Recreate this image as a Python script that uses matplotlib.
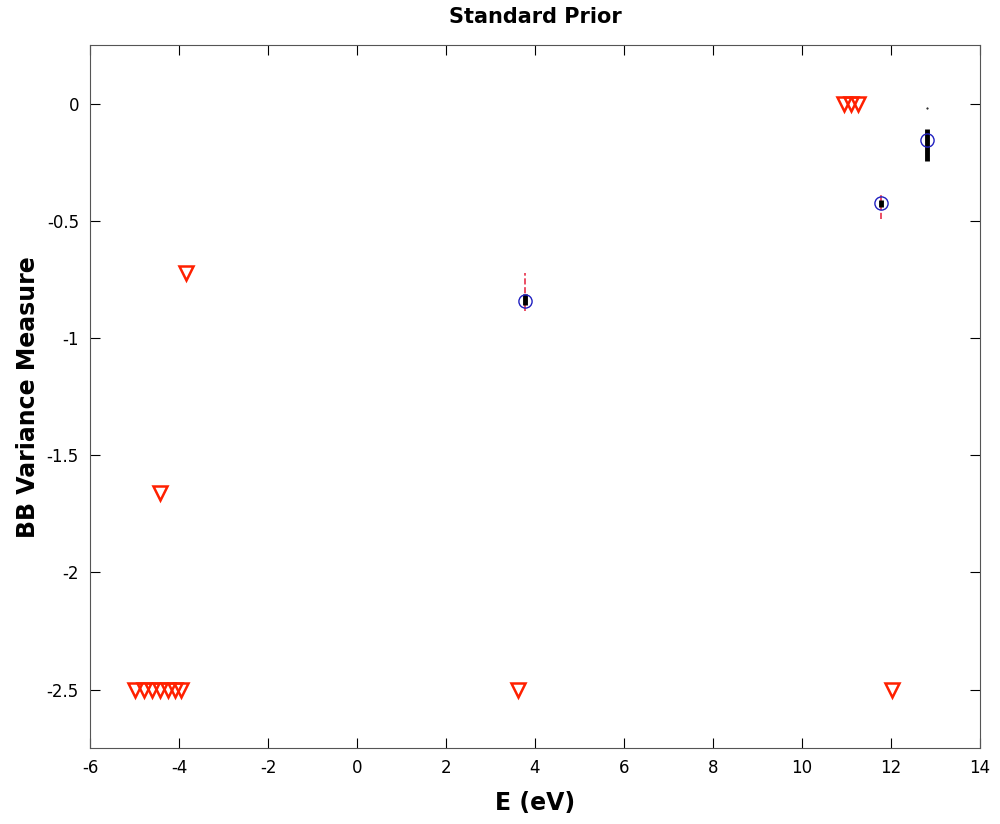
import numpy as np
import matplotlib
matplotlib.use("Agg")
import matplotlib.pyplot as plt

plt.rcParams['font.family'] = ['DejaVu Sans']

# upper limits (red open triangles)
lim_x = [-4.98, -4.78, -4.6, -4.42, -4.25, -4.1, -3.95, -3.84, -4.43, 3.62, 12.02, 10.95, 11.1, 11.25]
lim_y = [-2.5, -2.5, -2.5, -2.5, -2.5, -2.5, -2.5, -0.72, -1.66, -2.5, -2.5, 0.0, 0.0, 0.0]

# measured points (blue circles)
pt_x = [3.78, 11.78, 12.8]
pt_y = [-0.84, -0.425, -0.155]
# red dashed error ranges
red_lo = [-0.885, -0.49, -0.17]
red_hi = [-0.72, -0.39, -0.15]
# black thick error ranges
blk_lo = [-0.86, -0.44, -0.242]
blk_hi = [-0.81, -0.41, -0.106]

fig = plt.figure(figsize=(10, 8.24), dpi=100)
ax = fig.add_axes([0.09, 0.092, 0.89, 0.853])

ax.plot(lim_x, lim_y, linestyle='none', marker='v', markersize=9.5,
        markerfacecolor='none', markeredgecolor='#ff2000', markeredgewidth=1.8)

ax.vlines(pt_x, red_lo, red_hi, colors='#e8304a', linestyles='--', linewidth=1.2)
ax.vlines(pt_x, blk_lo, blk_hi, colors='black', linewidth=3.5)
ax.plot(pt_x, pt_y, linestyle='none', marker='o', markersize=9.5,
        markerfacecolor='none', markeredgecolor='#2020c0', markeredgewidth=1)
ax.plot([12.8], [-0.017], linestyle='none', marker='.', markersize=1, color='black')

ax.set_xlim(-6, 14)
ax.set_ylim(-2.75, 0.25)
ax.set_xticks(np.arange(-6, 15, 2))
ax.set_yticks([-2.5, -2, -1.5, -1, -0.5, 0])
ax.set_yticklabels(['-2.5', '-2', '-1.5', '-1', '-0.5', '0'])
ax.set_xticklabels([str(v) for v in range(-6, 15, 2)])
ax.tick_params(direction='in', top=True, right=True, labelsize=12, length=7, pad=8)
for s in ax.spines.values():
    s.set_color('#555555')

ax.set_xlabel('E (eV)', fontsize=17, fontweight='bold', labelpad=10)
ax.set_ylabel('BB Variance Measure', fontsize=17, fontweight='bold', labelpad=5)
ax.set_title('Standard Prior', fontsize=15, fontweight='bold', pad=16)

fig.savefig('out.png')
